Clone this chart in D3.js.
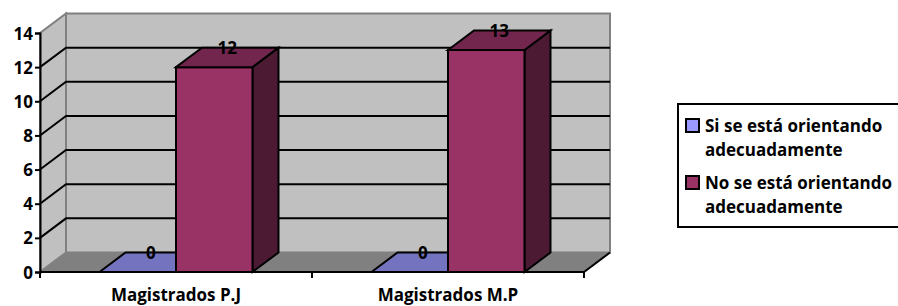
<!DOCTYPE html>
<html><head><meta charset="utf-8">
<script src="https://cdn.jsdelivr.net/npm/d3@7"></script>
<style>
html,body{margin:0;padding:0;background:#fff;}
svg{display:block;}
text{font-family:"Open Sans",Lato,sans-serif;font-weight:bold;fill:#000;}
</style></head>
<body>
<svg id="c" width="898" height="306"></svg>
<script>
const categories = ["Magistrados P.J", "Magistrados M.P"];
const seriesNames = ["Si se está orientando adecuadamente", "No se está orientando adecuadamente"];
const legendLines = [["Si se está orientando", "adecuadamente"], ["No se está orientando", "adecuadamente"]];
const siValues = [0, 0];
const noValues = [12, 13];
const yTicks = [0, 2, 4, 6, 8, 10, 12, 14];

const frontColors = ["#9999FF", "#993366"];
const topColors = ["#7373BF", "#73264D"];
const sideColors = ["#4D4D80", "#4D1A33"];

const svg = d3.select("#c");
const pLeft = 40, pRight = 584, pBottom = 272, pTop = 33;
const dx = 26, dy = -19.5;
const fs = 17;

const y = d3.scaleLinear().domain([0, 14]).range([pBottom, pTop]);
const x0 = d3.scaleBand().domain(categories).range([pLeft, pRight]).padding(0);
const x1 = d3.scaleBand().domain([0, 1]).range([0, x0.bandwidth()]).paddingInner(0).paddingOuter(0.778);

const pts = a => a.map(p => p.join(",")).join(" ");

// side wall
svg.append("polygon").attr("points", pts([[pLeft, pBottom], [pLeft, pTop], [pLeft+dx, pTop+dy], [pLeft+dx, pBottom+dy]]))
  .attr("fill", "#C0C0C0").attr("stroke", "#808080").attr("stroke-width", 2);
// back wall
svg.append("polygon").attr("points", pts([[pLeft+dx, pTop+dy], [pRight+dx, pTop+dy], [pRight+dx, pBottom+dy], [pLeft+dx, pBottom+dy]]))
  .attr("fill", "#C0C0C0").attr("stroke", "#808080").attr("stroke-width", 2);

// gridlines
const inner = yTicks.filter(v => v > 0 && v < 14);
svg.append("g").selectAll("path").data(inner).join("path")
  .attr("d", v => `M${pLeft},${y(v)}L${pLeft+dx},${y(v)+dy}L${pRight+dx},${y(v)+dy}`)
  .attr("fill", "none").attr("stroke", "#000").attr("stroke-width", 2);

// floor
svg.append("polygon").attr("points", pts([[pLeft, pBottom], [pLeft+dx, pBottom+dy], [pRight+dx, pBottom+dy], [pRight, pBottom]]))
  .attr("fill", "#808080").attr("stroke", "none");
svg.append("path").attr("d", `M${pLeft},${pBottom}L${pRight},${pBottom}L${pRight+dx},${pBottom+dy}`)
  .attr("fill", "none").attr("stroke", "#000").attr("stroke-width", 2);

// bars
const data = [];
categories.forEach((c, i) => {
  [siValues[i], noValues[i]].forEach((v, s) => data.push({c, s, v}));
});
const bars = svg.append("g");
data.forEach(d => {
  const xa = x0(d.c) + x1(d.s), xb = xa + x1.bandwidth();
  const yt = y(d.v), yb = y(0);
  const g = bars.append("g").attr("stroke", "#000").attr("stroke-width", 2).attr("stroke-linejoin", "miter");
  if (d.v > 0) {
    g.append("polygon").attr("points", pts([[xb, yt], [xb+dx, yt+dy], [xb+dx, yb+dy], [xb, yb]])).attr("fill", sideColors[d.s]);
    g.append("polygon").attr("points", pts([[xa, yb], [xb, yb], [xb, yt], [xa, yt]])).attr("fill", frontColors[d.s]);
  }
  g.append("polygon").attr("points", pts([[xa, yt], [xa+dx, yt+dy], [xb+dx, yt+dy], [xb, yt]])).attr("fill", topColors[d.s]);
});
// value labels
svg.append("g").selectAll("text").data(data).join("text")
  .attr("x", d => x0(d.c) + x1(d.s) + x1.bandwidth()/2 + dx/2)
  .attr("y", d => y(d.v) + dy + 6)
  .attr("text-anchor", "middle").attr("font-size", fs).text(d => d.v);

// y axis
const ya = svg.append("g").attr("transform", `translate(${pLeft},0)`)
  .call(d3.axisLeft(y).tickValues(yTicks).tickSize(5).tickPadding(2).tickFormat(d3.format("d")));
ya.select(".domain").attr("stroke", "#000").attr("stroke-width", 2);
ya.selectAll(".tick line").attr("stroke", "#000").attr("stroke-width", 2);
ya.selectAll(".tick text").attr("font-size", fs).attr("font-family", "Open Sans").attr("font-weight", "bold").attr("dy", "0.36em");

// x axis ticks and labels
const bounds = [pLeft, ...categories.map(c => x0(c) + x0.bandwidth())];
svg.append("g").selectAll("line").data(bounds).join("line")
  .attr("x1", d => d).attr("x2", d => d).attr("y1", pBottom).attr("y2", pBottom + 6)
  .attr("stroke", "#000").attr("stroke-width", 2);
svg.append("g").selectAll("text").data(categories).join("text")
  .attr("x", c => x0(c) + x0.bandwidth()/2).attr("y", 301)
  .attr("text-anchor", "middle").attr("font-size", fs).text(c => c);

// legend
const lg = svg.append("g");
lg.append("rect").attr("x", 678).attr("y", 104).attr("width", 240).attr("height", 123)
  .attr("fill", "#fff").attr("stroke", "#000").attr("stroke-width", 2);
seriesNames.forEach((n, i) => {
  const yy = 119 + i * 57;
  lg.append("rect").attr("x", 686).attr("y", yy).attr("width", 13).attr("height", 13)
    .attr("fill", frontColors[i]).attr("stroke", "#000").attr("stroke-width", 2);
  legendLines[i].forEach((t, j) => {
    lg.append("text").attr("x", 705).attr("y", yy + 13 + j * 24)
      .attr("font-size", fs).text(t);
  });
});
</script>
</body></html>
